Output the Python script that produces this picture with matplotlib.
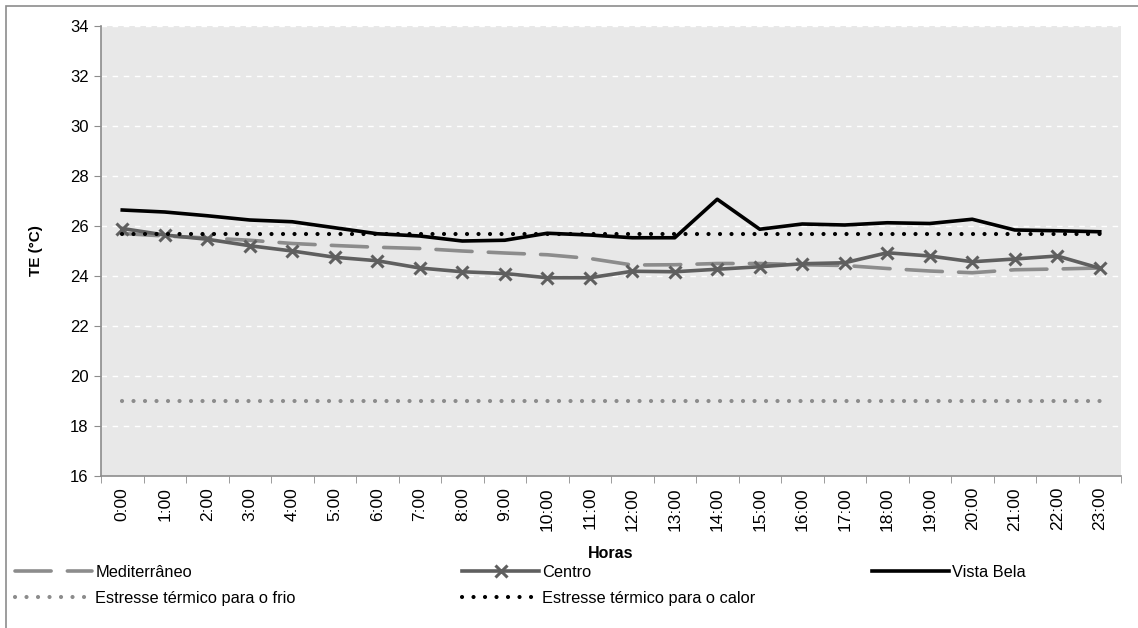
import matplotlib
matplotlib.use("Agg")
import matplotlib.pyplot as plt
from matplotlib.patches import Rectangle

plt.rcParams['font.family'] = ['Liberation Sans', 'DejaVu Sans']

horas = ["0:00", "1:00", "2:00", "3:00", "4:00", "5:00", "6:00", "7:00", "8:00", "9:00",
         "10:00", "11:00", "12:00", "13:00", "14:00", "15:00", "16:00", "17:00", "18:00",
         "19:00", "20:00", "21:00", "22:00", "23:00"]
mediterraneo = [25.7, 25.6, 25.52, 25.43, 25.3, 25.22, 25.15, 25.1, 25.0, 24.92, 24.85, 24.7,
                24.44, 24.45, 24.5, 24.5, 24.45, 24.42, 24.3, 24.2, 24.13, 24.25, 24.28, 24.32]
centro = [25.9, 25.64, 25.47, 25.21, 25.0, 24.75, 24.61, 24.32, 24.17, 24.1, 23.93, 23.93,
          24.19, 24.17, 24.27, 24.37, 24.49, 24.53, 24.93, 24.8, 24.57, 24.68, 24.8, 24.31]
vista_bela = [26.64, 26.56, 26.41, 26.24, 26.17, 25.93, 25.69, 25.6, 25.4, 25.43, 25.71, 25.64,
              25.53, 25.53, 27.07, 25.87, 26.08, 26.04, 26.13, 26.1, 26.27, 25.84, 25.81, 25.77]
frio = [19.0] * 24
calor = [25.7] * 24

W, H = 1138, 628
fig = plt.figure(figsize=(W / 100, H / 100), dpi=100)
fig.patches.append(Rectangle((6 / W, -0.1), 1.2, (H - 6) / H + 0.1, transform=fig.transFigure,
                             fill=False, edgecolor='#8c8c8c', lw=1.2, zorder=0))

ax = fig.add_axes([101 / W, 1 - 476 / H, 1020 / W, 450 / H])
ax.set_facecolor('#e8e8e8')
x = list(range(len(horas)))

l1, = ax.plot(x, mediterraneo, color='#8c8c8c', lw=2.6, linestyle=(0, (10, 4.5)),
              solid_capstyle='round', dash_capstyle='round', label='Mediterrâneo')
l2, = ax.plot(x, centro, color='#5f5f5f', lw=2.6, marker='x', markersize=9, mew=2.2,
              label='Centro')
l3, = ax.plot(x, vista_bela, color='black', lw=2.6, label='Vista Bela')
l4, = ax.plot(x, frio, color='#8c8c8c', lw=3.0, linestyle=(0, (0.01, 2.75)),
              dash_capstyle='round', label='Estresse térmico para o frio')
l5, = ax.plot(x, calor, color='black', lw=3.0, linestyle=(0, (0.01, 2.75)),
              dash_capstyle='round', label='Estresse térmico para o calor')

ax.set_xlim(-0.5, len(horas) - 0.5)
ax.set_ylim(16, 34)
ax.set_yticks(range(16, 35, 2))
ax.set_xticks(x)
ax.set_xticklabels(horas, rotation=90, fontsize=12.5)
ax.tick_params(axis='x', length=0, pad=8)
ax.set_xticks([i - 0.5 for i in range(len(horas) + 1)], minor=True)
ax.tick_params(axis='x', which='minor', length=5, color='#8c8c8c', direction='out')
ax.tick_params(axis='y', length=5, color='#8c8c8c', labelsize=12, pad=4)
ax.grid(axis='y', color='white', linestyle=(0, (4, 4)), lw=1)
ax.set_axisbelow(True)
for s in ['top', 'right']:
    ax.spines[s].set_visible(False)
for s in ['left', 'bottom']:
    ax.spines[s].set_color('#8c8c8c')
    ax.spines[s].set_linewidth(1.2)

ax.set_xlabel('Horas', fontweight='bold', fontsize=11.5, labelpad=11)
ax.set_ylabel('TE (°C)', fontweight='bold', fontsize=11, labelpad=19)

kw = dict(frameon=False, fontsize=11.8, handlelength=4.7, handletextpad=0.2,
          labelspacing=0.65, borderaxespad=0, borderpad=0)
top = 1 - 565 / H
lg1 = fig.legend(handles=[l1, l4], loc='upper left', bbox_to_anchor=(15 / W, top), **kw)
lg2 = fig.legend(handles=[l2, l5], loc='upper left', bbox_to_anchor=(462 / W, top), **kw)
lg3 = fig.legend(handles=[l3], loc='upper left', bbox_to_anchor=(872 / W, top), **kw)

fig.savefig('out.png', dpi=100)
